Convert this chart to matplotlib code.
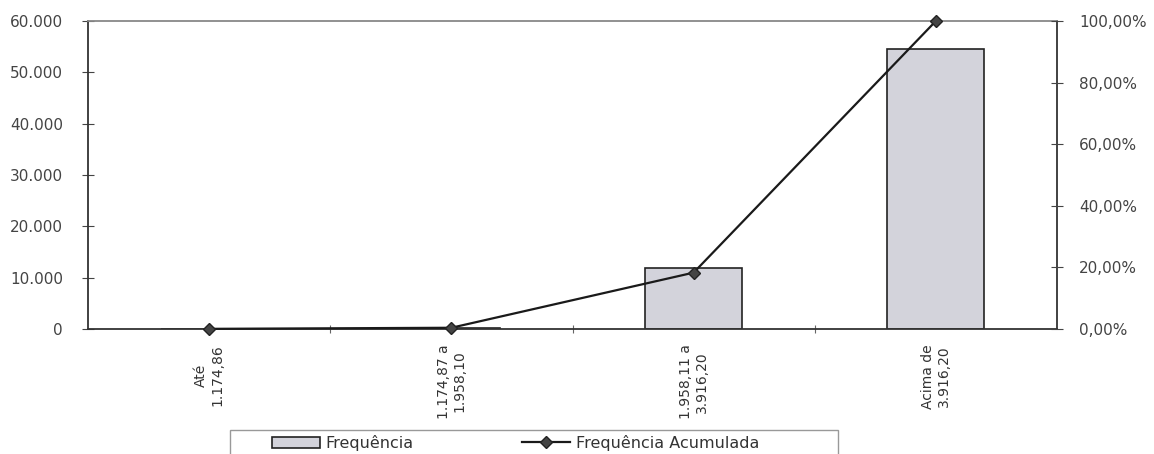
import matplotlib.pyplot as plt
from matplotlib.patches import Rectangle
from matplotlib.ticker import FuncFormatter

plt.rcParams['font.family'] = ['DejaVu Sans']

categories = ['Até\n1.174,86', '1.174,87 a\n1.958,10', '1.958,11 a\n3.916,20', 'Acima de\n3.916,20']
frequencia = [30, 250, 11900, 54600]
acumulada = [0.05, 0.4, 18.3, 100.0]

W, H = 1154, 454
fig = plt.figure(figsize=(W / 100, H / 100), dpi=100)
ax = fig.add_axes([88 / W, 1 - 329 / H, (1057 - 88) / W, (329 - 21) / H])

x = range(len(categories))
ax.bar(x, frequencia, width=0.4, color='#d3d3db', edgecolor='#222222', linewidth=1.2,
       label='Frequência', zorder=2)
ax.set_xlim(-0.5, len(categories) - 0.5)
ax.set_ylim(0, 60000)
ax.set_yticks(range(0, 60001, 10000))
ax.yaxis.set_major_formatter(FuncFormatter(lambda v, p: f'{int(v):,}'.replace(',', '.')))

# ticks on the category boundaries, labels in the middle
ax.set_xticks([i + 0.5 for i in range(len(categories) - 1)])
ax.set_xticklabels([])
ax.set_xticks(list(x), minor=True)
ax.set_xticklabels(categories, minor=True, rotation=90, va='top', ha='center',
                   fontsize=10, color='#333333', linespacing=1.15)
ax.tick_params(axis='x', which='minor', length=0, pad=11)
ax.tick_params(axis='x', which='major', direction='inout', length=6, color='#666666')
ax.tick_params(axis='y', direction='inout', length=8, labelsize=11, labelcolor='#444444',
               color='#444444', pad=14)

for s in ax.spines.values():
    s.set_color('#333333')
    s.set_linewidth(1.3)
ax.spines['top'].set_color('#888888')

ax2 = ax.twinx()
ax2.plot(x, acumulada, color='#1a1a1a', linewidth=1.6, marker='D', markersize=6,
         markerfacecolor='#444444', markeredgecolor='#222222', label='Frequência Acumulada',
         zorder=3, clip_on=False)
ax2.set_ylim(0, 100)
ax2.set_yticks(range(0, 101, 20))
ax2.yaxis.set_major_formatter(FuncFormatter(lambda v, p: f'{v:.2f}'.replace('.', ',') + '%'))
ax2.tick_params(axis='y', direction='inout', length=8, labelsize=11, labelcolor='#444444',
                color='#444444', pad=12)
for s in ax2.spines.values():
    s.set_visible(False)

# legend box, cut off by the bottom edge like the scan
fig.patches.append(Rectangle((230 / W, -0.02), (838 - 230) / W, 0.02 + 1 - 430 / H,
                             transform=fig.transFigure, fill=False, edgecolor='#999999',
                             linewidth=1.0))
h1, l1 = ax.get_legend_handles_labels()
h2, l2 = ax2.get_legend_handles_labels()
leg = fig.legend(h1 + h2, l1 + l2, loc='center left', bbox_to_anchor=(272 / W, 1 - 443 / H),
                 ncol=2, fontsize=11.5, frameon=False, handlelength=3.0, columnspacing=6.8,
                 handletextpad=0.35, borderaxespad=0, borderpad=0)
for t in leg.get_texts():
    t.set_color('#333333')

fig.savefig('out.png', dpi=100)
